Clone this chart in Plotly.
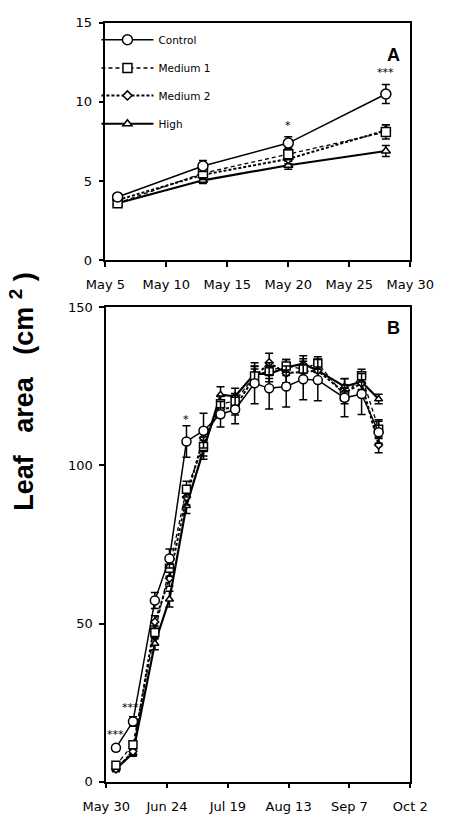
import plotly.graph_objects as go

# ---------------- data ----------------
series_names = ["Control", "Medium 1", "Medium 2", "High"]

dates_a = ["2000-05-06", "2000-05-13", "2000-05-20", "2000-05-28"]
ctrl_a = [4.0, 5.95, 7.4, 10.5]
med1_a = [3.6, 5.5, 6.7, 8.1]
med2_a = [3.8, 5.4, 6.4, 8.2]
high_a = [3.6, 5.05, 6.0, 6.9]
ctrl_a_err = [0.15, 0.35, 0.4, 0.6]
med1_a_err = [0.15, 0.3, 0.35, 0.45]
med2_a_err = [0.15, 0.3, 0.3, 0.35]
high_a_err = [0.15, 0.2, 0.25, 0.35]

dates_b = ["2000-06-03", "2000-06-10", "2000-06-19", "2000-06-25", "2000-07-02",
           "2000-07-09", "2000-07-16", "2000-07-22", "2000-07-30", "2000-08-05",
           "2000-08-12", "2000-08-19", "2000-08-25", "2000-09-05", "2000-09-12",
           "2000-09-19"]
ctrl_b = [10.7, 19.0, 57.3, 70.6, 107.6, 111.0, 116.2, 117.7, 126.0, 124.4,
          125.0, 127.3, 127.0, 121.4, 122.6, 110.5]
med1_b = [5.2, 11.7, 47.2, 67.5, 92.5, 106.0, 119.5, 120.3, 128.3, 130.0,
          131.5, 130.5, 132.4, 122.0, 128.4, 111.5]
med2_b = [4.0, 9.5, 50.5, 64.3, 90.0, 108.7, 117.7, 118.5, 128.0, 132.5,
          129.2, 129.6, 130.0, 123.0, 126.0, 106.5]
high_b = [4.0, 9.0, 43.7, 57.7, 87.3, 105.0, 122.4, 121.9, 129.0, 129.0,
          131.0, 132.2, 130.0, 125.0, 126.5, 121.0]
ctrl_b_err = [1.0, 1.5, 2.5, 3.0, 5.0, 5.5, 4.0, 4.5, 6.5, 6.5,
              6.5, 6.5, 6.5, 6.0, 6.5, 3.5]
med1_b_err = [0.8, 1.2, 2.0, 2.5, 2.5, 3.0, 2.5, 2.5, 3.0, 2.5,
              2.0, 2.5, 2.0, 2.5, 2.0, 3.0]
med2_b_err = [0.8, 1.0, 2.0, 2.5, 2.5, 3.0, 2.5, 2.5, 2.5, 3.0,
              3.0, 2.5, 2.5, 2.5, 2.5, 2.5]
high_b_err = [0.8, 1.0, 2.0, 2.5, 2.5, 3.0, 2.5, 2.5, 2.5, 2.5,
              2.5, 2.5, 2.5, 2.5, 2.5, 1.5]

ticks_a = ["2000-05-05", "2000-05-10", "2000-05-15", "2000-05-20", "2000-05-25", "2000-05-30"]
ticklabels_a = ["May 5", "May 10", "May 15", "May 20", "May 25", "May 30"]
ticks_b = ["2000-05-30", "2000-06-24", "2000-07-19", "2000-08-13", "2000-09-07", "2000-10-02"]
ticklabels_b = ["May 30", "Jun 24", "Jul 19", "Aug 13", "Sep 7", "Oct 2"]

sig_a = [("2000-05-20", 8.5, "*"), ("2000-05-28", 11.85, "***")]
sig_b = [("2000-06-03", 14.8, "***"), ("2000-06-09", 23.5, "***"), ("2000-07-02", 114.5, "*")]

# ---------------- styles ----------------
styles = [
    dict(dash="solid", width=1.5, symbol="circle", size=10),
    dict(dash="4px,3px", width=1.3, symbol="square", size=9),
    dict(dash="3px,2px", width=2.0, symbol="diamond", size=7),
    dict(dash="solid", width=2.2, symbol="triangle-up", size=8),
]

FONT = "DejaVu Sans"
fig = go.Figure()

data_a = [(ctrl_a, ctrl_a_err), (med1_a, med1_a_err), (med2_a, med2_a_err), (high_a, high_a_err)]
data_b = [(ctrl_b, ctrl_b_err), (med1_b, med1_b_err), (med2_b, med2_b_err), (high_b, high_b_err)]
legends = ["legend", "legend2", "legend3", "legend4"]

# draw order: High first so Control is on top
for i in [3, 2, 1, 0]:
    st = styles[i]
    ys, es = data_a[i]
    fig.add_trace(go.Scatter(
        x=dates_a, y=ys, name=series_names[i], mode="lines+markers",
        line=dict(color="black", width=st["width"], dash=st["dash"]),
        marker=dict(symbol=st["symbol"], size=st["size"], color="white",
                    line=dict(color="black", width=1.5)),
        error_y=dict(type="data", array=es, visible=True, color="black",
                     thickness=1.5, width=4),
        xaxis="x", yaxis="y", legend=legends[i], showlegend=True,
    ))
for i in [3, 2, 1, 0]:
    st = styles[i]
    ys, es = data_b[i]
    fig.add_trace(go.Scatter(
        x=dates_b, y=ys, name=series_names[i], mode="lines+markers",
        line=dict(color="black", width=st["width"], dash=st["dash"]),
        marker=dict(symbol=st["symbol"], size=st["size"] - 1, color="white",
                    line=dict(color="black", width=1.5)),
        error_y=dict(type="data", array=es, visible=True, color="black",
                     thickness=1.5, width=4),
        xaxis="x2", yaxis="y2", showlegend=False,
    ))

axis_common = dict(showline=True, linecolor="black", linewidth=1.5, mirror=True,
                   ticks="outside", ticklen=5, tickwidth=1.5, tickcolor="black",
                   showgrid=False, zeroline=False,
                   tickfont=dict(family=FONT, size=13, color="black"))

legend_rows_y = [0.9595, 0.9245, 0.8905, 0.8555]
leg_layout = {}
for k, name in enumerate(legends):
    leg_layout[name] = dict(x=0.178, y=legend_rows_y[k], xanchor="left", yanchor="middle",
                            bgcolor="rgba(0,0,0,0)", borderwidth=0, itemwidth=52,
                            font=dict(family=FONT, size=10.5, color="black"))

annotations = []
for d, v, t in sig_a:
    annotations.append(dict(x=d, y=v, xref="x", yref="y", text=t, showarrow=False,
                            font=dict(family=FONT, size=11, color="black")))
for d, v, t in sig_b:
    annotations.append(dict(x=d, y=v, xref="x2", yref="y2", text=t, showarrow=False,
                            font=dict(family=FONT, size=11, color="black")))
annotations.append(dict(x=0.928, y=0.955, xref="paper", yref="paper", text="<b>A</b>",
                        showarrow=False, font=dict(family="Liberation Sans", size=18, color="black")))
annotations.append(dict(x=0.928, y=0.603, xref="paper", yref="paper", text="<b>B</b>",
                        showarrow=False, font=dict(family="Liberation Sans", size=18, color="black")))
annotations.append(dict(x=-0.005, y=0.525, xref="paper", yref="paper", xanchor="center", yanchor="middle",
                        text="<b>Leaf&nbsp;&nbsp;&nbsp;area&nbsp;&nbsp;&nbsp;(cm&nbsp;<sup>2</sup>&nbsp;)</b>",
                        textangle=-90,
                        showarrow=False, font=dict(family="Liberation Sans", size=27, color="black")))

fig.update_layout(
    width=455, height=823, margin=dict(l=0, r=0, t=0, b=0),
    paper_bgcolor="white", plot_bgcolor="white",
    xaxis=dict(domain=[0.2, 0.949], anchor="y", range=["2000-05-05", "2000-05-30"],
               tickvals=ticks_a, ticktext=ticklabels_a, ticklabelstandoff=6, **axis_common),
    yaxis=dict(domain=[0.6865, 0.9806], anchor="x", range=[0, 15],
               tickvals=[0, 5, 10, 15], ticklabelstandoff=4, **axis_common),
    xaxis2=dict(domain=[0.202, 0.949], anchor="y2", range=["2000-05-30", "2000-10-02"],
                tickvals=ticks_b, ticktext=ticklabels_b, ticklabelstandoff=7, **axis_common),
    yaxis2=dict(domain=[0.0413, 0.6282], anchor="x2", range=[0, 150],
                tickvals=[0, 50, 100, 150], ticklabelstandoff=4, **axis_common),
    annotations=annotations,
    **leg_layout,
)

fig.write_html("out.html")
